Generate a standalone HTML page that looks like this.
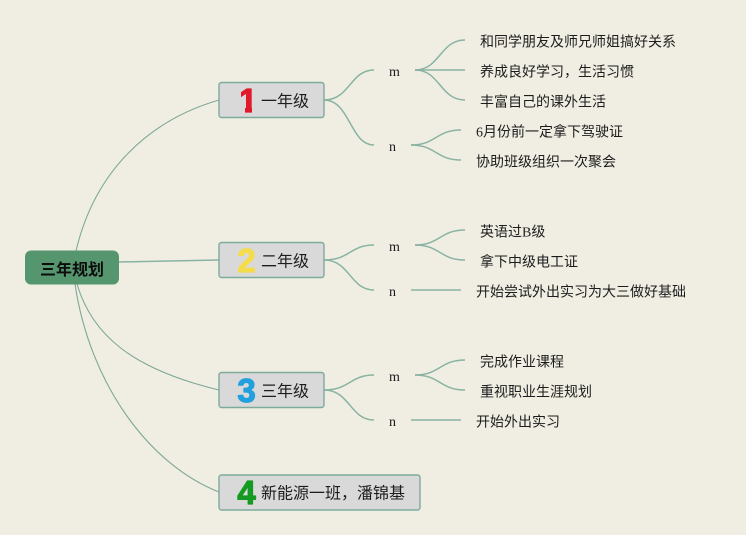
<!DOCTYPE html>
<html lang="zh">
<head>
<meta charset="utf-8">
<style>
html,body{margin:0;padding:0;background:#f0eee3;overflow:hidden;}
svg{display:block;filter:blur(0.3px);}
text{font-family:"Liberation Serif","Noto Sans CJK SC",sans-serif;fill:#1c1c1c;}
.leaf{font-size:14px;}
.sec{font-size:16px;}
.mn{font-size:14px;text-anchor:middle;}
.num{font-family:"Liberation Sans",sans-serif;font-weight:bold;font-size:33px;text-anchor:middle;stroke-linejoin:round;stroke-width:1.2px;}
.box{fill:#d9d9da;stroke:#7dab9b;stroke-width:1.4;}
.e{fill:none;stroke:#7fa898;stroke-width:1.1;}
.t{fill:none;stroke:#88b3a3;stroke-width:1.5;}
</style>
</head>
<body>
<svg width="746" height="535" viewBox="0 0 746 535" xmlns="http://www.w3.org/2000/svg">
<defs>
<clipPath id="one"><path d="M241 85H252V114H245V104H241Z"/></clipPath>
</defs>
<rect width="746" height="535" fill="#f0eee3"/>

<!-- root connectors -->
<path class="e" d="M76 251C95 170 150 120 219 100"/>
<path class="t" d="M119 262L219 260"/>
<path class="e" d="M77 284C92 335 132 369 219 390"/>
<path class="e" d="M75 284C90 385 150 465 219 492"/>

<!-- section 1 connectors -->
<path class="t" d="M324 100C350 100 350 70 374 70"/>
<path class="t" d="M324 100C350 100 350 145 374 145"/>
<path class="t" d="M415 70C440 70 440 40 465 40"/>
<path class="t" d="M415 70H465"/>
<path class="t" d="M415 70C440 70 440 100 465 100"/>
<path class="t" d="M411 145C436 145 436 130 461 130"/>
<path class="t" d="M411 145C436 145 436 160 461 160"/>

<!-- section 2 connectors -->
<path class="t" d="M324 260C350 260 350 245 374 245"/>
<path class="t" d="M324 260C350 260 350 290 374 290"/>
<path class="t" d="M415 245C440 245 440 230 465 230"/>
<path class="t" d="M415 245C440 245 440 260 465 260"/>
<path class="t" d="M411 290H461"/>

<!-- section 3 connectors -->
<path class="t" d="M324 390C350 390 350 375 374 375"/>
<path class="t" d="M324 390C350 390 350 420 374 420"/>
<path class="t" d="M415 375C440 375 440 360 465 360"/>
<path class="t" d="M415 375C440 375 440 390 465 390"/>
<path class="t" d="M411 420H461"/>

<!-- root -->
<rect x="25" y="250.5" width="94" height="34" rx="6" fill="#55966f"/>
<text x="72" y="275" font-size="16" font-weight="bold" text-anchor="middle" style="fill:#0c0c0c">三年规划</text>

<!-- section nodes -->
<rect class="box" x="219" y="82.5" width="105" height="35" rx="2.5"/>
<rect class="box" x="219" y="242.5" width="105" height="35" rx="2.5"/>
<rect class="box" x="219" y="372.5" width="105" height="35" rx="2.5"/>
<rect class="box" x="219" y="475" width="201" height="35" rx="2.5"/>

<text class="num" x="248" y="112" clip-path="url(#one)" style="fill:#e01a2d;stroke:#e01a2d">1</text>
<text class="num" x="246.500" y="272" style="fill:#f4dc4c;stroke:#f4dc4c">2</text>
<text class="num" x="246.500" y="402" style="fill:#22a0dd;stroke:#22a0dd">3</text>
<text class="num" x="246.500" y="504" style="fill:#159a22;stroke:#159a22">4</text>

<text class="sec" x="261" y="106.500">一年级</text>
<text class="sec" x="261" y="266.500">二年级</text>
<text class="sec" x="261" y="396.500">三年级</text>
<text class="sec" x="261" y="498.500">新能源一班，潘锦基</text>

<!-- m / n -->
<text class="mn" x="394.500" y="76">m</text>
<text class="mn" x="392.500" y="151">n</text>
<text class="mn" x="394.500" y="251">m</text>
<text class="mn" x="392.500" y="296">n</text>
<text class="mn" x="394.500" y="381">m</text>
<text class="mn" x="392.500" y="426">n</text>

<!-- leaves -->
<text class="leaf" x="480" y="46.500">和同学朋友及师兄师姐搞好关系</text>
<text class="leaf" x="480" y="76.500">养成良好学习，生活习惯</text>
<text class="leaf" x="480" y="106.500">丰富自己的课外生活</text>
<text class="leaf" x="476" y="136.500">6月份前一定拿下驾驶证</text>
<text class="leaf" x="476" y="166.500">协助班级组织一次聚会</text>
<text class="leaf" x="480" y="236.500">英语过B级</text>
<text class="leaf" x="480" y="266.500">拿下中级电工证</text>
<text class="leaf" x="476" y="296.500">开始尝试外出实习为大三做好基础</text>
<text class="leaf" x="480" y="366.500">完成作业课程</text>
<text class="leaf" x="480" y="396.500">重视职业生涯规划</text>
<text class="leaf" x="476" y="426.500">开始外出实习</text>
</svg>
</body>
</html>
